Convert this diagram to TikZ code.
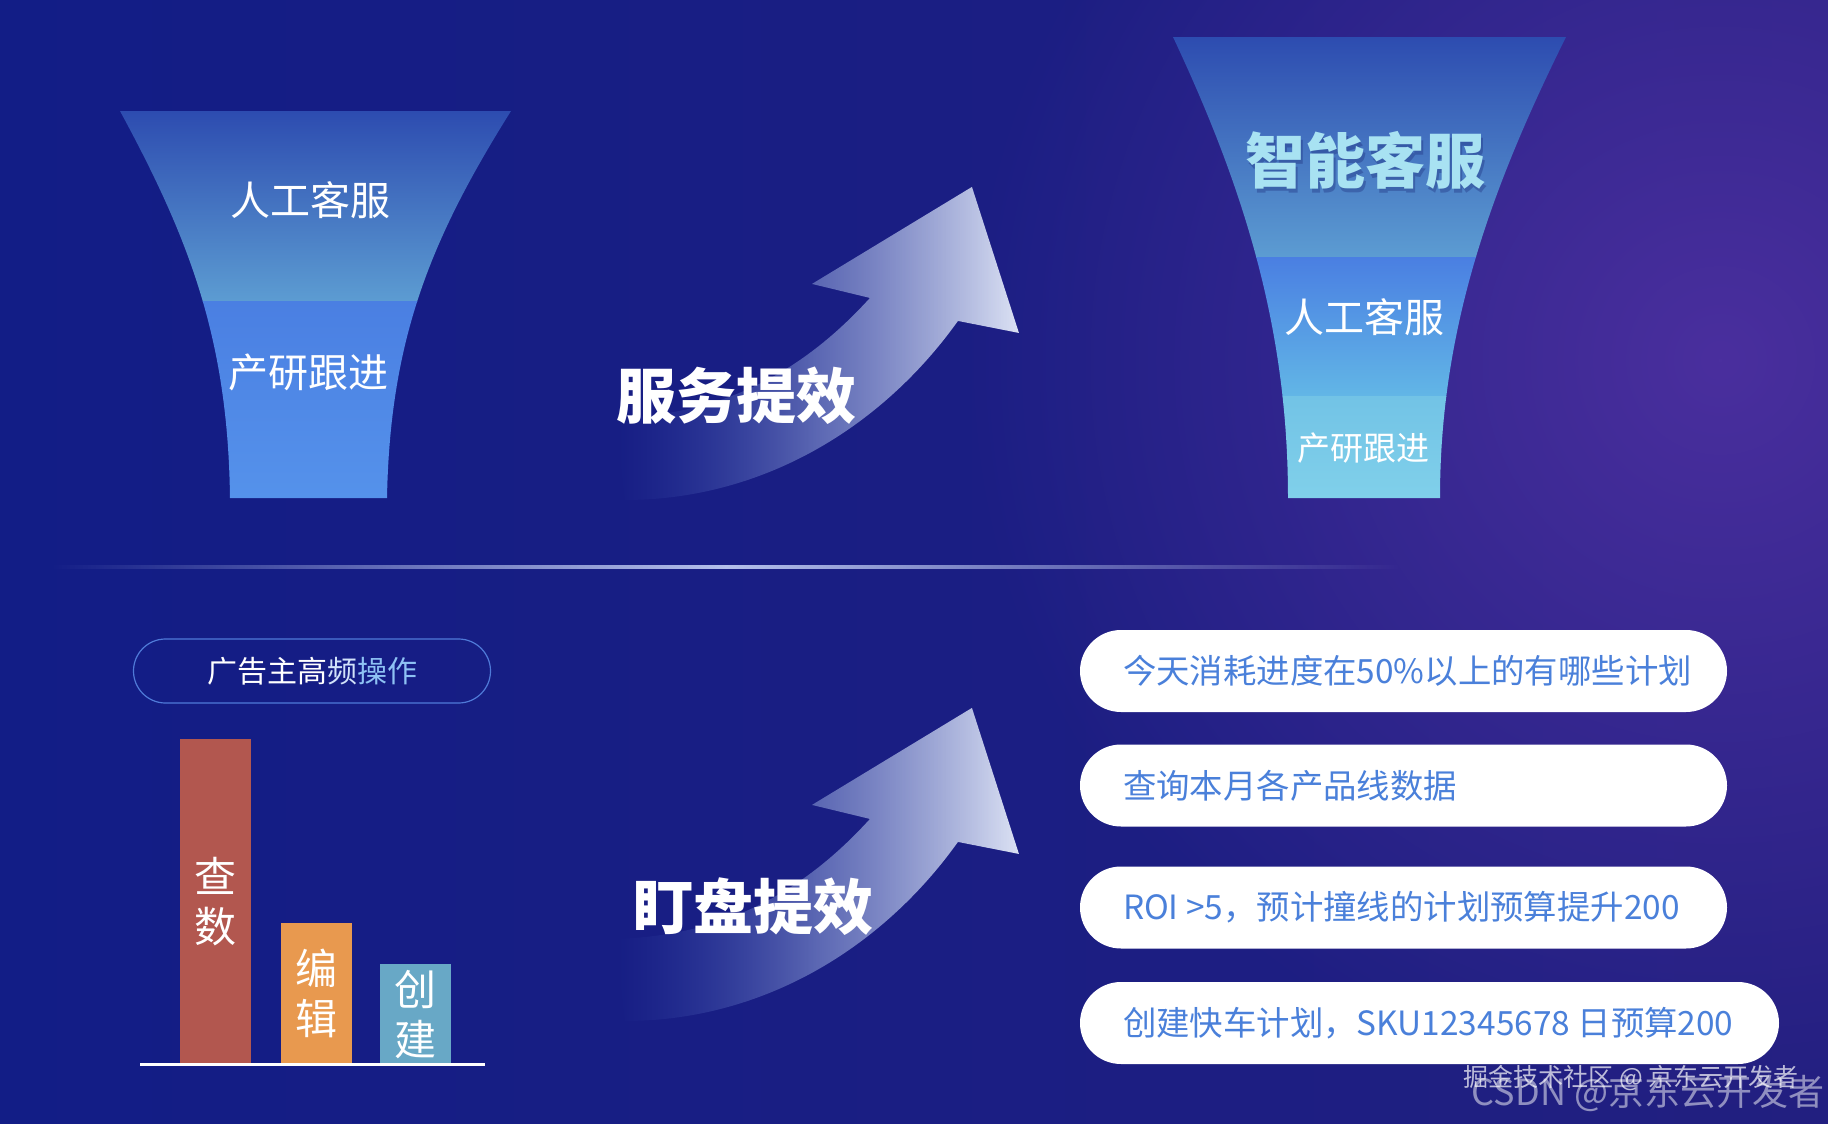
\documentclass[tikz,border=0pt]{standalone}
\usepackage{fontspec}
\setmainfont{Noto Sans CJK SC}
\usetikzlibrary{fadings,positioning}
\tikzfading[name=glowfade,inner color=transparent!0,outer color=transparent!100]
\tikzfading[name=tailfade,left color=transparent!100,right color=transparent!0,middle color=transparent!40]
\tikzfading[name=linefade,left color=transparent!100,right color=transparent!100,middle color=transparent!0]

\definecolor{bgleft}{HTML}{121D86}
\definecolor{bgright}{HTML}{221F80}
\definecolor{bgglow}{HTML}{4A2F9E}
\definecolor{linec}{HTML}{B4C0EC}
\definecolor{funa}{HTML}{2D4CB0}
\definecolor{funb}{HTML}{5C9CD2}
\definecolor{func}{HTML}{4A7FE2}
\definecolor{fund}{HTML}{5592EB}
\definecolor{fune}{HTML}{62B6E6}
\definecolor{funf}{HTML}{72C3E6}
\definecolor{fung}{HTML}{80D0EA}
\definecolor{smartc}{HTML}{A8E2F2}
\definecolor{shadowc}{HTML}{1B2A78}
\definecolor{arrowa}{HTML}{3550B4}
\definecolor{arrowc}{HTML}{DCE2F4}
\definecolor{pillline}{HTML}{4F7AD8}
\definecolor{barred}{HTML}{B2574F}
\definecolor{barorange}{HTML}{E8994F}
\definecolor{barblue}{HTML}{68A8C6}
\definecolor{pilltext}{HTML}{4A80DA}

\begin{document}
\begin{tikzpicture}[x=0.5pt,y=-0.5pt]
\tikzstyle{every node}=[inner sep=0pt,outer sep=0pt];
\tikzstyle{lbl}=[text=white,font=\fontsize{20pt}{24pt}\selectfont];
\tikzstyle{big}=[text=white,font=\fontsize{30pt}{36pt}\selectfont\bfseries];
\tikzstyle{bar}=[anchor=south,minimum width=35.5pt];
\tikzstyle{bartext}=[text=white,align=center,font=\fontsize{21pt}{25pt}\selectfont];
\tikzstyle{pill}=[anchor=west,fill=white,rounded corners=20.5pt,minimum height=41pt];
\tikzstyle{query}=[anchor=west,text=pilltext,font=\fontsize{16.7pt}{20pt}\selectfont];

\useasboundingbox (0,0) rectangle (1828,1124);
% background
\shade[left color=bgleft,right color=bgright] (0,0) rectangle (1828,1124);
\fill[bgglow,path fading=glowfade] (1720,360) circle (760);
\fill[linec,path fading=linefade] (52,565) rectangle (1400,569);

% left funnel
\begin{scope}
	\clip (120,111) -- (511,111) .. controls (430,240) and (390,340) .. (387,498)
		-- (230,498) .. controls (228,340) and (190,240) .. (120,111) -- cycle;
	\shade[top color=funa,bottom color=funb] (100,111) rectangle (530,301);
	\shade[top color=func,bottom color=fund] (100,301) rectangle (530,498);
\end{scope}
\node[lbl] (man1) at (310,200) {人工客服};
\node[lbl] (dev1) at (308,372) {产研跟进};

% right funnel
\begin{scope}
	\clip (1173,37) -- (1566,37) .. controls (1490,190) and (1440,330) .. (1440,498)
		-- (1288,498) .. controls (1288,330) and (1245,190) .. (1173,37) -- cycle;
	\shade[top color=funa,bottom color=funb] (1150,37) rectangle (1590,257);
	\shade[top color=func,bottom color=fune] (1150,257) rectangle (1590,396);
	\shade[top color=funf,bottom color=fung] (1150,396) rectangle (1590,498);
\end{scope}
\node[big,text=shadowc,opacity=0.35] (smarts) at (1367,164) {智能客服};
\node[big,text=smartc] (smart) at (1365,160) {智能客服};
\node[lbl] (man2) at (1364,317) {人工客服};
\node[lbl,font=\fontsize{16.5pt}{20pt}\selectfont] (dev2) at (1363,448) {产研跟进};

% arrows
\foreach \dy in {0,521} {
	\shade[left color=arrowa,right color=arrowc,path fading=tailfade]
		(870,298+\dy) .. controls (800,375+\dy) and (720,415+\dy) .. (615,418+\dy)
		-- (625,500+\dy) .. controls (760,500+\dy) and (880,430+\dy) .. (958,321+\dy)
		-- (1019,333+\dy) -- (972,187+\dy) -- (812,284+\dy) -- cycle;
}
\node[big] (gain1) at (736,396) {服务提效};
\node[big] (gain2) at (753,907) {盯盘提效};

% operations
\node[draw=pillline,line width=0.6pt,rounded corners=16pt,minimum width=178.5pt,minimum height=32pt,text=white,font=\fontsize{15pt}{18pt}\selectfont] (ops) at (312,671) {广告主高\textcolor[HTML]{D2E2FA}{频}\textcolor[HTML]{8EC2F4}{操作}};
\node[bar,fill=barred,minimum height=162pt] (b1) at (215.5,1063) {};
\node[bar,fill=barorange,minimum height=70pt] (b2) at (316.5,1063) {};
\node[bar,fill=barblue,minimum height=49.5pt] (b3) at (415.5,1063) {};
\node[bartext] (t1) at (215,902) {查\\数};
\node[bartext] (t2) at (316,993) {编\\辑};
\node[bartext] (t3) at (415,1015) {创\\建};
\draw[white,line width=1.5pt] (140,1064) -- (485,1064);

% queries
\node[pill,minimum width=323.5pt] (q1) at (1080,671) {};
\node[pill,minimum width=323.5pt] (q2) at (1080,785.5) {};
\node[pill,minimum width=323.5pt] (q3) at (1080,907.5) {};
\node[pill,minimum width=349.5pt] (q4) at (1080,1023) {};
\node[query,right=21.5pt of q1.west] (q1t) {今天消耗进度在50\%以上的有哪些计划};
\node[query,right=21.5pt of q2.west] (q2t) {查询本月各产品线数据};
\node[query,right=21.5pt of q3.west] (q3t) {ROI >5，预计撞线的计划预算提升200};
\node[query,right=21.5pt of q4.west] (q4t) {创建快车计划，SKU12345678 日预算200};

\node[text=white,opacity=0.5,font=\fontsize{18pt}{21pt}\selectfont] (wm2) at (1648,1093) {CSDN @京东云开发者};
\node[text=white,opacity=0.7,font=\fontsize{12.5pt}{15pt}\selectfont] (wm1) at (1631,1078) {掘金技术社区 @ 京东云开发者};
\end{tikzpicture}
\end{document}
